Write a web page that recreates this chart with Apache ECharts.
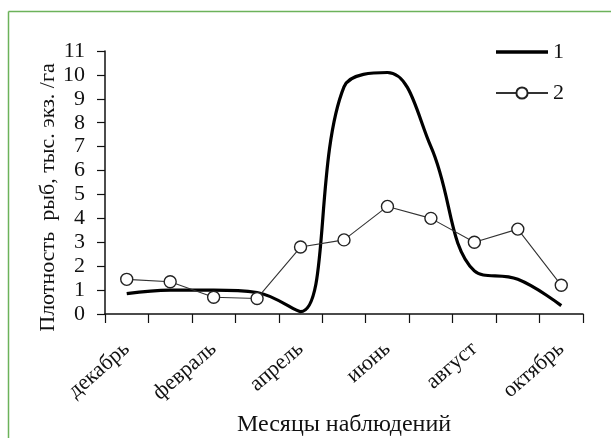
<!DOCTYPE html>
<html>
<head>
<meta charset="utf-8">
<script src="https://cdn.jsdelivr.net/npm/echarts@6/dist/echarts.min.js"></script>
<style>
  html, body { margin: 0; padding: 0; background: #fff; }
  #chart { width: 611px; height: 438px; }
</style>
</head>
<body>
<div id="chart"></div>
<script>
// месяцы наблюдений
var months = ['декабрь', 'январь', 'февраль', 'март', 'апрель', 'май',
  'июнь', 'июль', 'август', 'сентябрь', 'октябрь'];
// плотность, тыс. экз./га
var series1 = [0.85, 1.0, 1.0, 0.9, 0.1, 9.5, 10.1, 7.0, 1.8, 1.45, 0.35];
var series2 = [1.45, 1.35, 0.7, 0.65, 2.8, 3.1, 4.5, 4.0, 3.0, 3.55, 1.2];
var yTicks = { min: 0, max: 11, step: 1 };

var serif = '"Liberation Serif", "Times New Roman", serif';

var chart = echarts.init(document.getElementById('chart'));
chart.setOption({
  animation: false,
  backgroundColor: '#fff',
  textStyle: { fontFamily: serif, color: '#111' },
  graphic: [
    { type: 'line', shape: { x1: 8.5, y1: 11.5, x2: 611, y2: 11.5 }, style: { stroke: '#6cb25a', lineWidth: 1.5 } },
    { type: 'line', shape: { x1: 8.5, y1: 11.5, x2: 8.5, y2: 438 }, style: { stroke: '#6cb25a', lineWidth: 1.5 } }
  ],
  legend: {
    orient: 'vertical',
    left: 490,
    top: 36,
    itemWidth: 52,
    itemHeight: 14,
    itemGap: 19,
    textStyle: { fontFamily: serif, fontSize: 22, color: '#111' },
    data: [
      { name: '1', icon: 'path://M0 0 H52 V3.4 H0 Z' },
      { name: '2' }
    ]
  },
  grid: { left: 105, right: 28, top: 51, bottom: 124, outerBoundsMode: 'none', containLabel: false },
  xAxis: {
    type: 'category',
    data: months,
    boundaryGap: true,
    name: 'Месяцы наблюдений',
    nameLocation: 'middle',
    nameGap: 99,
    nameMoveOverlap: false,
    nameTextStyle: { fontFamily: serif, fontSize: 24, color: '#111' },
    axisLine: { lineStyle: { color: '#111', width: 1.5 } },
    axisTick: { show: true, interval: 0, length: 9, lineStyle: { color: '#111', width: 1.2 } },
    axisLabel: {
      interval: 1,
      rotate: 41,
      margin: 32,
      fontFamily: serif,
      fontSize: 22,
      color: '#111'
    },
    splitLine: { show: false }
  },
  yAxis: {
    type: 'value',
    min: yTicks.min,
    max: yTicks.max,
    interval: yTicks.step,
    name: 'Плотность  рыб, тыс. экз. /га',
    nameLocation: 'middle',
    nameGap: 46,
    nameMoveOverlap: false,
    nameTextStyle: { fontFamily: serif, fontSize: 22, color: '#111', padding: [0, 30, 0, 0] },
    axisLine: { show: true, lineStyle: { color: '#111', width: 1.5 } },
    axisTick: { show: true, length: 8, lineStyle: { color: '#111', width: 1.2 } },
    axisLabel: { margin: 20, fontFamily: serif, fontSize: 22, color: '#111' },
    splitLine: { show: false }
  },
  series: [
    {
      name: '1',
      type: 'line',
      data: series1,
      smooth: 0.4,
      symbol: 'none',
      lineStyle: { color: '#000', width: 3.2 },
      itemStyle: { color: '#000' }
    },
    {
      name: '2',
      type: 'line',
      data: series2,
      symbol: 'circle',
      symbolSize: 12,
      lineStyle: { color: '#333', width: 1.1 },
      itemStyle: { color: '#fff', borderColor: '#222', borderWidth: 1.4 }
    }
  ]
});
</script>
</body>
</html>
